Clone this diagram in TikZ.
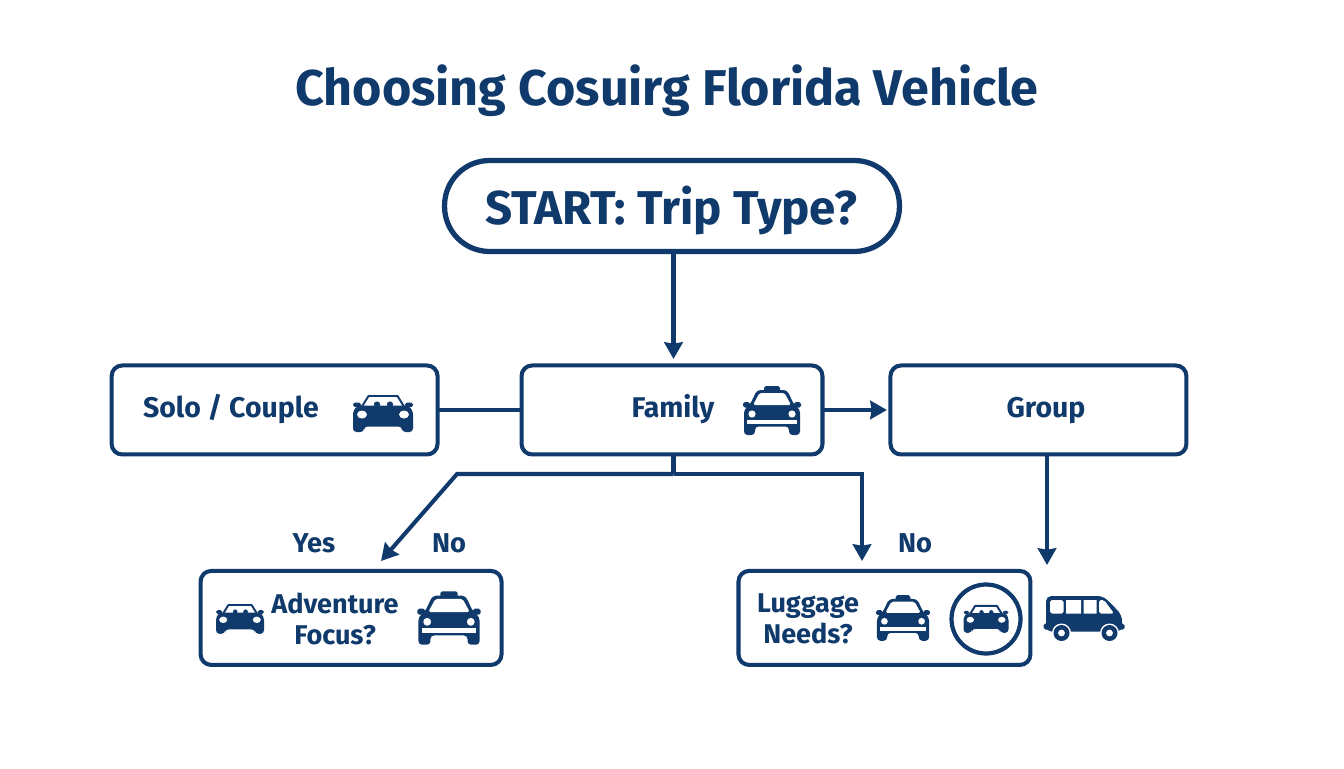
\documentclass[tikz,border=0pt]{standalone}
\usepackage{fontspec}
\setmainfont{Fira Sans}
\usepackage{xcolor}
\usetikzlibrary{arrows.meta, positioning}
\definecolor{primary}{HTML}{0F3A6B}

\tikzset{
    pics/sportscar/.style={code={
        \draw[primary, line width=1.1pt, line join=round] (-21,-7) -- (-14.5,-17.5) -- (14.5,-17.5) -- (21,-7);
        \fill[primary, rounded corners=1pt] (-30,-11) rectangle (-22,-6.5) (22,-11) rectangle (30,-6.5);
        \fill[primary, rounded corners=1.5pt] (-9,-12) rectangle (-3,-6) (4,-12) rectangle (10,-6);
        \fill[primary, rounded corners=2pt] (-25,-8) -- (25,-8) -- (30,-3) -- (30,18.5) -- (19,18.5) -- (19,13) -- (-19,13) -- (-19,18.5) -- (-30,18.5) -- (-30,-3) -- cycle;
        \fill[white] (-21,1) ellipse (5 and 4) (21,1) ellipse (5 and 4);
    }},
    pics/taxicar/.style={code={
        \fill[primary, rounded corners=1pt] (-8,-24.5) rectangle (8,-19);
        \fill[primary, rounded corners=1pt] (-29,-8.5) rectangle (-22,-3) (22,-8.5) rectangle (29,-3);
        \fill[primary, rounded corners=2pt] (-15,-20.5) -- (15,-20.5) -- (22,-6) -- (28,-1) -- (28,24.5) -- (17,24.5) -- (17,16) -- (-17,16) -- (-17,24.5) -- (-28,24.5) -- (-28,-1) -- (-22,-6) -- cycle;
        \fill[white, rounded corners=1pt] (-12.5,-17.5) -- (12.5,-17.5) -- (19,-5.5) -- (-19,-5.5) -- cycle;
        \fill[white] (-25,9.5) rectangle (25,13.5);
        \fill[white] (-20,3.5) circle (3.6) (20,3.5) circle (3.6);
    }},
    pics/vanbus/.style={code={
        \fill[primary, rounded corners=3pt] (-38,13) -- (-38,-22.5) -- (19,-22.5) -- (30,-12) -- (38,-3) -- (38,13) -- cycle;
        \fill[primary, rounded corners=1pt] (-40.5,5) rectangle (-34,11) (34,5) rectangle (40.5,11);
        \fill[white, rounded corners=1pt] (-34,-18.5) rectangle (-20.5,-5);
        \fill[white] (-18,-18.5) rectangle (-3,-5) (-0.5,-18.5) rectangle (12.5,-5);
        \fill[white, rounded corners=1pt] (15,-18.5) -- (20,-18.5) -- (30,-5) -- (15,-5) -- cycle;
        \foreach \wx in {-22.5,25.5}{
            \fill[white] (\wx,14.5) circle (9.5);
            \fill[primary] (\wx,14.5) circle (8);
            \fill[white] (\wx,14.5) circle (3.4);
        }
    }}
}

\begin{document}
\begin{tikzpicture}[
    x=0.02cm, y=-0.02cm,
    every node/.style={text=primary, font=\bfseries},
    startbox/.style={rectangle, draw=primary, rounded corners=0.9cm, fill=white,
                  minimum width=9.1cm, minimum height=1.82cm, line width=3pt,
                  inner sep=0pt, outer sep=0pt},
    block/.style={rectangle, draw=primary, rounded corners=6pt, fill=white,
                  minimum height=1.78cm, line width=2.3pt,
                  inner sep=0pt, outer sep=0pt},
    caption/.style={font=\fontsize{16.2}{18}\selectfont\bfseries, align=center},
    question/.style={font=\fontsize{15.4}{18}\selectfont\bfseries, align=center},
    answer/.style={font=\fontsize{15.5}{18}\selectfont\bfseries},
    arrow/.style={-{Stealth[length=9.5pt, width=10.5pt, inset=0.8pt]}, line width=2.3pt, color=primary},
    link/.style={line width=2.3pt, color=primary}
]
\useasboundingbox (0,0) rectangle (1344,768);

% Title
\node[font=\fontsize{28.6}{34}\selectfont\bfseries] (title) at (667,91) {Choosing Cosuirg Florida Vehicle};

% Top row
\node[startbox] (start) at (672,206) {};
\node[font=\fontsize{27}{32}\selectfont\bfseries] (starttext) at (671,211) {START: Trip Type?};
\node[block, minimum width=6.02cm, below=2.28cm of start] (family) {};
\node[block, minimum width=6.52cm, left=1.68cm of family] (solo) {};
\node[block, minimum width=5.92cm, right=1.36cm of family] (group) {};
\node[caption] (solotext) at (231,409) {Solo / Couple};
\node[caption] (familytext) at (673,409) {Family};
\node[caption] (grouptext) at (1046,411) {Group};

% Bottom row
\node[block, minimum width=6.02cm, minimum height=1.88cm, below=2.33cm of solo, xshift=1.53cm] (adventure) {};
\node[block, minimum width=5.84cm, minimum height=1.88cm, right=4.74cm of adventure] (luggage) {};
\node[question] (adventuretext) at (335,619) {Adventure\\Focus?};
\node[question] (luggagetext) at (808,619) {Luggage\\Needs?};
\node[draw=primary, circle, line width=2.4pt, minimum size=1.38cm, inner sep=0pt] (badge) at (986,619) {};

% Icons
\pic at (383,413.5) {sportscar};
\pic at (772,410.5) {taxicar};
\pic[scale=0.8] at (240,619) {sportscar};
\pic[scale=1.09] at (449,618) {taxicar};
\pic[scale=0.93] at (903,618) {taxicar};
\pic[scale=0.75] at (986,619) {sportscar};
\pic at (1084,618.5) {vanbus};

% Branch points
\coordinate (startout) at (673.5,251);
\coordinate (familyin) at (673.5,359);
\coordinate (familyout) at (673.5,455);
\coordinate (fork) at (673.5,474);
\coordinate (forkleft) at (457,474);
\coordinate (forkright) at (862,474);
\coordinate (adventurein) at (381,561);
\coordinate (luggagein) at (862,561);
\coordinate (groupout) at (1047,565);

% Arrows
\draw[arrow] (startout) -- (familyin);
\draw[link] (solo) -- (family);
\draw[arrow, shorten >=2pt] (family) -- (group);
\draw[link] (familyout) -- (fork);
\draw[arrow] (fork) -- (forkleft) -- (adventurein);
\draw[arrow] (fork) -- (forkright) -- (luggagein);
\draw[arrow] (group.south -| groupout) -- (groupout);

% Labels
\node[answer] (yes) at (314,543) {Yes};
\node[answer] (noleft) at (449,543) {No};
\node[answer] (noright) at (915,543) {No};

\end{tikzpicture}
\end{document}
